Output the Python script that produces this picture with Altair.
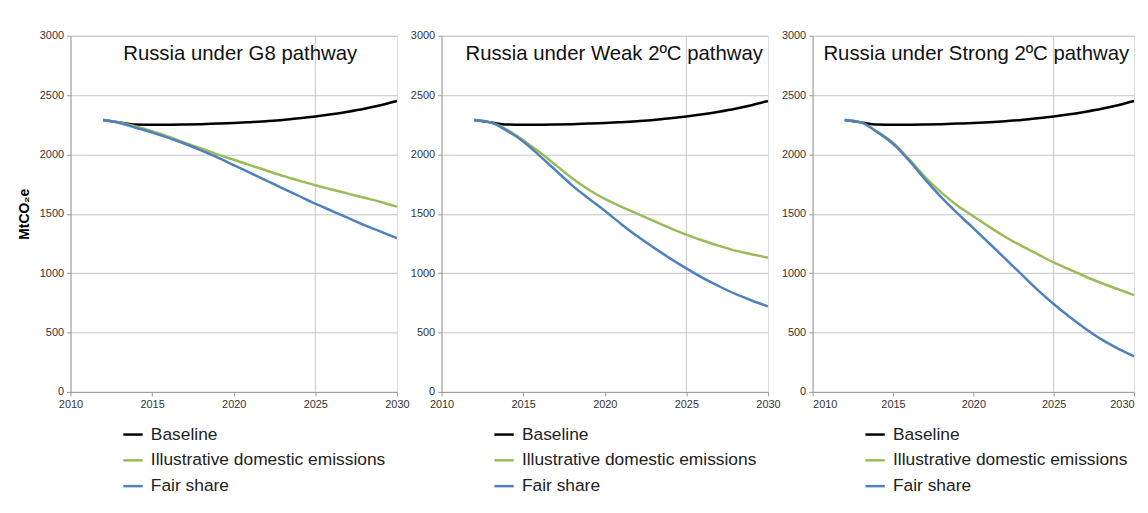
import altair as alt
import pandas as pd

years = list(range(2012, 2031))
baseline = [2290, 2270, 2252, 2250, 2250, 2252, 2255, 2260, 2265, 2272, 2280,
            2290, 2305, 2320, 2338, 2360, 2385, 2415, 2450]

g8_domestic = [2290, 2270, 2235, 2195, 2150, 2100, 2050, 2000, 1955, 1910, 1865,
               1820, 1780, 1740, 1705, 1670, 1635, 1600, 1560]
g8_fair = [2290, 2265, 2225, 2185, 2140, 2090, 2035, 1975, 1910, 1845, 1780,
           1715, 1650, 1585, 1525, 1465, 1405, 1350, 1295]

weak_domestic = [2290, 2270, 2210, 2120, 2020, 1910, 1800, 1705, 1625, 1560, 1500,
                 1440, 1380, 1325, 1275, 1230, 1190, 1160, 1130]
weak_fair = [2290, 2270, 2200, 2110, 1990, 1865, 1740, 1630, 1525, 1415, 1310,
             1215, 1125, 1040, 960, 890, 825, 770, 720]

strong_domestic = [2290, 2270, 2195, 2100, 1960, 1810, 1680, 1570, 1480, 1390, 1305,
                   1230, 1160, 1090, 1030, 970, 915, 865, 815]
strong_fair = [2290, 2270, 2190, 2090, 1950, 1790, 1640, 1505, 1380, 1250, 1120,
               990, 860, 740, 630, 530, 440, 365, 300]

series_names = ["Baseline", "Illustrative domestic emissions", "Fair share"]
series_colors = ["#000000", "#9BBB59", "#4F81BD"]
titles = ["Russia under G8 pathway", "Russia under Weak 2ºC pathway",
          "Russia under Strong 2ºC pathway"]
x_ticks = [2010, 2015, 2020, 2025, 2030]
y_ticks = [0, 500, 1000, 1500, 2000, 2500, 3000]
v_grid_years = [2025]

FONT = "Liberation Sans"
H = 359


def panel(title, domestic, fair, show_ytitle, W, flush, title_x):
    rows = []
    for name, vals in zip(series_names, [baseline, domestic, fair]):
        for yr, v in zip(years, vals):
            rows.append({"year": yr, "value": v, "series": name})
    df = pd.DataFrame(rows)

    xscale = alt.Scale(domain=[2010, 2030], nice=False, zero=False)
    x = alt.X("year:Q", scale=xscale,
              axis=alt.Axis(values=x_ticks, format="d", grid=False, title=None,
                            labelFont=FONT, labelFontSize=11, labelColor="#333",
                            domainColor="#999", tickColor="#999", tickSize=4,
                            labelPadding=3, labelFlush=flush))
    y = alt.Y("value:Q", scale=alt.Scale(domain=[0, 3000], nice=False),
              axis=alt.Axis(values=y_ticks, format="d", grid=True, gridColor="#c4c4c4",
                            title="MtCO₂e" if show_ytitle else None,
                            titleFont=FONT, titleFontSize=14, titleFontWeight="bold",
                            titleColor="#000", titlePadding=8,
                            labelFont=FONT, labelFontSize=11, labelColor="#333",
                            domainColor="#999", tickColor="#999", tickSize=4,
                            labelPadding=3))

    grid = alt.Chart(pd.DataFrame({"year": v_grid_years})).mark_rule(
        color="#c4c4c4", strokeWidth=1).encode(x=alt.X("year:Q", scale=xscale))

    lines = alt.Chart(df).mark_line(interpolate="monotone", strokeWidth=2.5).encode(
        x=x, y=y,
        color=alt.Color("series:N",
                        scale=alt.Scale(domain=series_names, range=series_colors),
                        sort=series_names,
                        legend=alt.Legend(title=None, orient="none", legendX=52,
                                          legendY=391, symbolType="stroke",
                                          symbolSize=380, symbolStrokeWidth=2.5,
                                          labelFont=FONT, labelFontSize=17.5,
                                          labelColor="#222", labelOffset=7,
                                          rowPadding=6, labelLimit=400)),
        order=alt.Order("year:Q"))

    ttl = alt.Chart(pd.DataFrame({"t": [title]})).mark_text(
        font=FONT, fontSize=20.5, color="#111", align="center", baseline="middle").encode(
        text="t:N", x=alt.value(title_x), y=alt.value(18))

    return alt.layer(grid, lines, ttl).properties(width=W, height=H)


p1 = panel(titles[0], g8_domestic, g8_fair, True, 329, False, 171)
p2 = panel(titles[1], weak_domestic, weak_fair, False, 329, False, 174)
p3 = panel(titles[2], strong_domestic, strong_fair, False, 324, True, 165)

chart = alt.hconcat(p1, p2, p3, spacing=0).resolve_scale(
    color="independent").resolve_legend(color="independent").configure_view(
    stroke=None).configure(background="white",
                           padding={"left": 9, "top": 19, "right": 0, "bottom": 0})

chart.save("out.html", embed_options={"renderer": "svg", "actions": False})
